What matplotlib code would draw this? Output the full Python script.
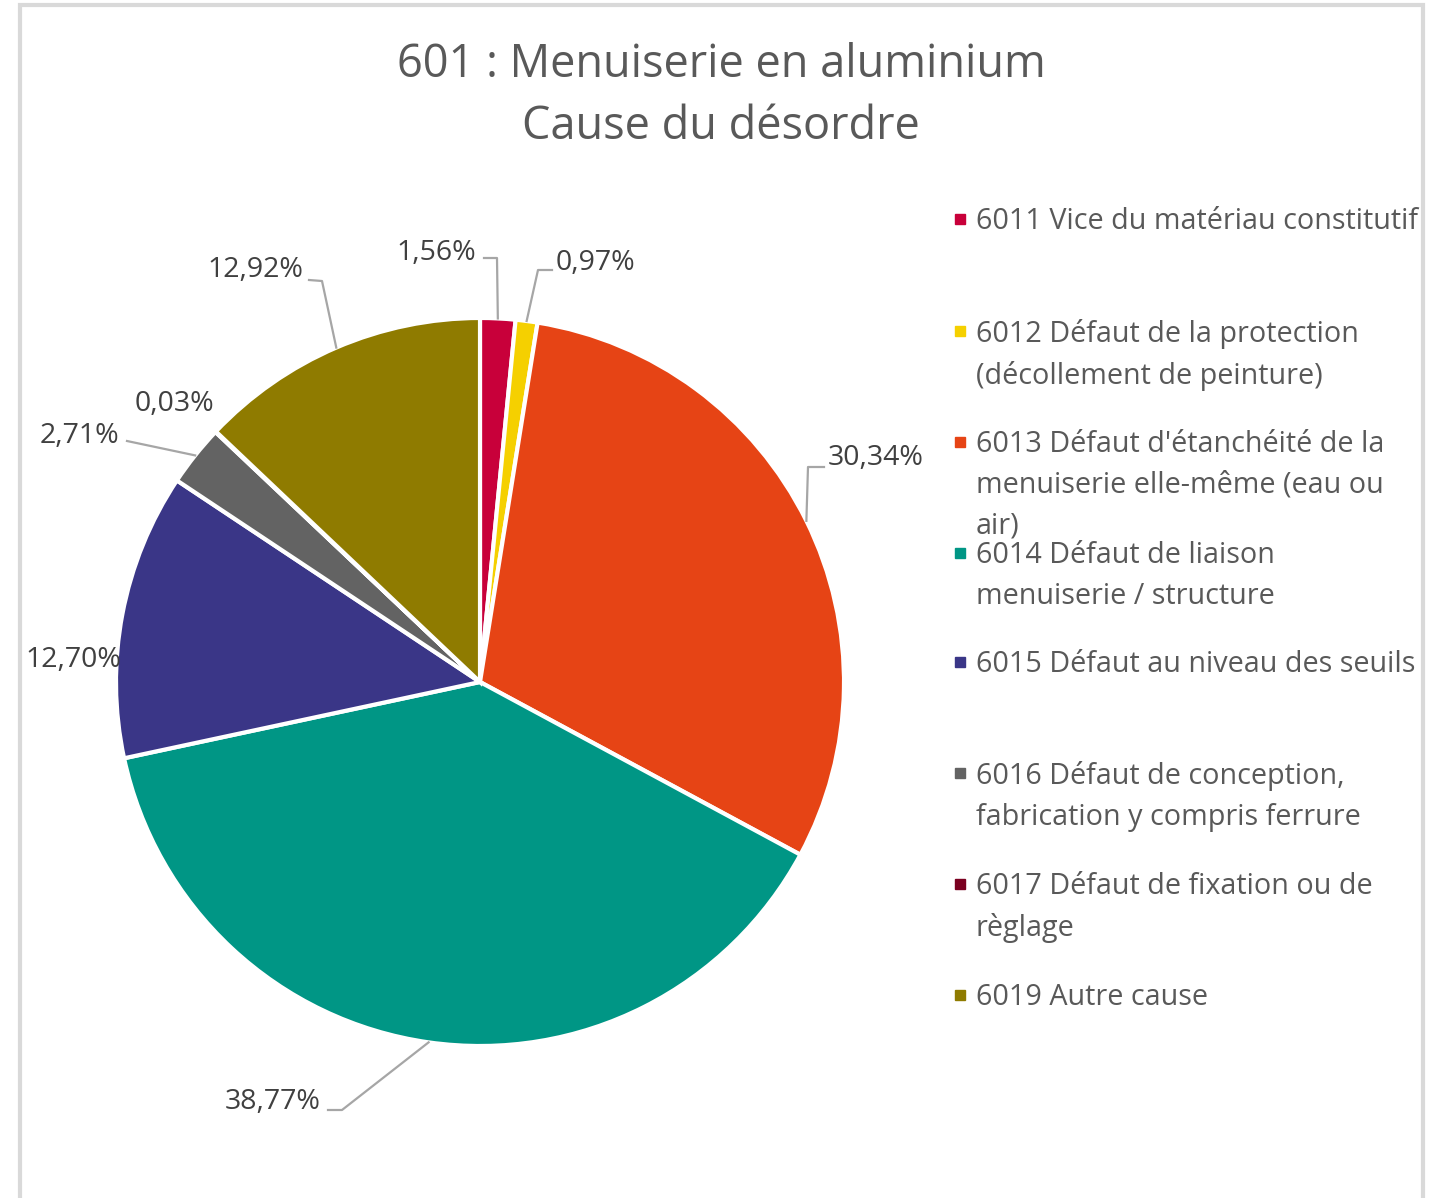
import matplotlib.pyplot as plt
import numpy as np
from matplotlib.patches import Rectangle

plt.rcParams['font.family'] = ['Open Sans', 'DejaVu Sans']

codes = ['6011', '6012', '6013', '6014', '6015', '6016', '6017', '6019']
legend_labels = [
    '6011 Vice du matériau constitutif',
    '6012 Défaut de la protection\n(décollement de peinture)',
    "6013 Défaut d'étanchéité de la\nmenuiserie elle-même (eau ou\nair)",
    '6014 Défaut de liaison\nmenuiserie / structure',
    '6015 Défaut au niveau des seuils',
    '6016 Défaut de conception,\nfabrication y compris ferrure',
    '6017 Défaut de fixation ou de\nrèglage',
    '6019 Autre cause',
]
shares = [1.56, 0.97, 30.34, 38.77, 12.70, 2.71, 0.03, 12.92]
colors = ['#C8003A', '#F5D000', '#E64415', '#009685',
          '#3A3687', '#636363', '#7A0020', '#8F7B00']

W, H = 1443, 1198
def py(y):
    return H - y

fig = plt.figure(figsize=(W / 100, H / 100), dpi=100)
ax = fig.add_axes([0, 0, 1, 1])

cx, cy, r = 480, py(682), 364
wedges, _ = ax.pie(shares, colors=colors, startangle=90, counterclock=False,
                   center=(cx, cy), radius=r,
                   wedgeprops=dict(edgecolor='white', linewidth=3))
ax.set_xlim(0, W)
ax.set_ylim(0, H)
ax.set_aspect('auto')
ax.axis('off')

# cadre de la zone du graphique
ax.plot([20, 20, 1423, 1423], [0, py(5), py(5), 0], color='#D9D9D9', lw=3,
        solid_joinstyle='miter')

title = '601 : Menuiserie en aluminium\nCause du désordre'
ax.text(721, py(96), title, ha='center', va='center', fontsize=32.5,
        color='#595959', linespacing=1.48)

# étiquettes : x, y du texte, alignement, points de la ligne de rappel (px)
label_layout = [
    (476, 253, 'right', [(484, 258), (497, 258)]),
    (556, 263, 'left', [(552, 270), (538, 270)]),
    (828, 458, 'left', [(824, 467), (808, 467)]),
    (321, 1102, 'right', [(328, 1110), (342, 1110)]),
    (121, 660, 'right', None),
    (119, 436, 'right', [(127, 441)]),
    (214, 404, 'right', None),
    (303, 270, 'right', [(309, 280), (322, 281)]),
]
for w, val, (tx, ty, ha, pts) in zip(wedges, shares, label_layout):
    txt = f'{val:.2f}%'.replace('.', ',')
    ax.text(tx, py(ty), txt, ha=ha, va='center', fontsize=20.5, color='#404040')
    if pts:
        mid = np.deg2rad((w.theta1 + w.theta2) / 2)
        ex, ey = cx + r * np.cos(mid), cy + r * np.sin(mid)
        xs = [p[0] for p in pts] + [ex]
        ys = [py(p[1]) for p in pts] + [ey]
        ax.plot(xs, ys, color='#A6A6A6', lw=1.6)

# légende
leg_y = [219, 331, 442, 553, 662, 773, 884, 995]
for lab, col, y in zip(legend_labels, colors, leg_y):
    ax.add_patch(Rectangle((955, py(y) - 5), 10, 10, color=col))
    ax.text(976, py(y) + 12, lab, ha='left', va='top', fontsize=20.7,
            color='#595959', linespacing=1.53)

fig.savefig('out.png', dpi=100)
